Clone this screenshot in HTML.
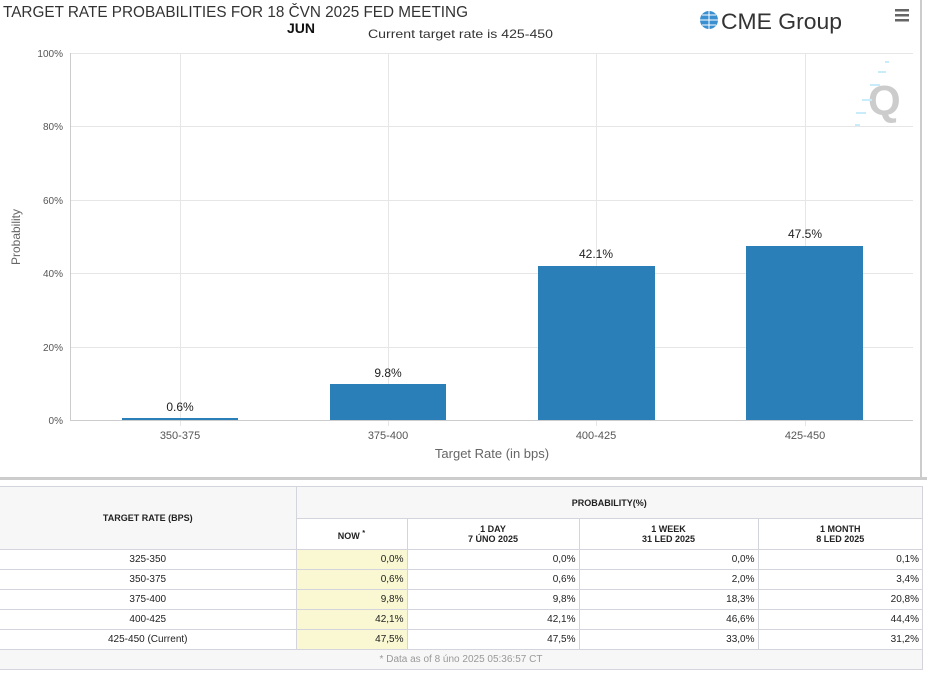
<!DOCTYPE html>
<html><head><meta charset="utf-8"><style>
body{margin:0;width:927px;height:673px;background:#fff;overflow:hidden;font-family:"Liberation Sans",sans-serif;position:relative}
svg{position:absolute;left:0;top:0}
table{position:absolute;left:0;top:486px;border-collapse:collapse;font-size:10px;color:#222;width:923px}
td{border:1px solid #d4d4dc;padding:0 3px;height:19px;box-sizing:border-box}
.h{background:#f7f7f7;text-align:center;font-weight:bold;font-size:9px}
.c{text-align:center}.r{text-align:right}.y{background:#f9f8d2;text-align:right}
</style></head><body>
<svg width="927" height="486" font-family="Liberation Sans, sans-serif">
<line x1="921" y1="0" x2="921" y2="478" stroke="#ccc" stroke-width="2"/>
<rect x="0" y="477" width="927" height="3" fill="#ccc"/>
<text x="3" y="17" font-size="16" fill="#333" textLength="465" lengthAdjust="spacingAndGlyphs">TARGET RATE PROBABILITIES FOR 18 ČVN 2025 FED MEETING</text>
<text x="287" y="33" font-size="14" font-weight="bold" fill="#111">JUN</text>
<text x="368" y="38" font-size="12" fill="#333" textLength="185" lengthAdjust="spacingAndGlyphs">Current target rate is 425-450</text>
<circle cx="709" cy="20" r="9" fill="#3a8fd0"/>
<path d="M700 20h18M709 11v18M702 15h14M702 25h14" stroke="#fff" stroke-width="1"/>
<text x="721" y="29" font-size="22" fill="#333" textLength="121" lengthAdjust="spacingAndGlyphs">CME Group</text>
<rect x="895" y="9" width="14" height="2.5" fill="#666"/><rect x="895" y="14" width="14" height="2.5" fill="#666"/><rect x="895" y="19" width="14" height="2.5" fill="#666"/>
<text x="868" y="115" font-size="42" font-weight="bold" fill="#ccc">Q</text>
<g stroke="#c8ecfa" stroke-width="2"><line x1="885" y1="62" x2="889" y2="62"/><line x1="878" y1="72" x2="886" y2="72"/><line x1="870" y1="85" x2="880" y2="85"/><line x1="862" y1="100" x2="872" y2="100"/><line x1="856" y1="113" x2="866" y2="113"/><line x1="855" y1="125" x2="860" y2="125"/></g>
<g stroke="#e6e6e6" stroke-width="1">
<line x1="71" y1="53.5" x2="913" y2="53.5"/><line x1="71" y1="126.5" x2="913" y2="126.5"/><line x1="71" y1="200.5" x2="913" y2="200.5"/><line x1="71" y1="273.5" x2="913" y2="273.5"/><line x1="71" y1="347.5" x2="913" y2="347.5"/>
<line x1="180.5" y1="53" x2="180.5" y2="426"/><line x1="388.5" y1="53" x2="388.5" y2="426"/><line x1="596.5" y1="53" x2="596.5" y2="426"/><line x1="805.5" y1="53" x2="805.5" y2="426"/>
</g>
<line x1="70.5" y1="53" x2="70.5" y2="420" stroke="#ccc"/>
<line x1="70" y1="420.5" x2="913" y2="420.5" stroke="#ccc"/>
<g font-size="10" fill="#555" text-anchor="end">
<text x="63" y="57">100%</text><text x="63" y="130">80%</text><text x="63" y="204">60%</text><text x="63" y="277">40%</text><text x="63" y="351">20%</text><text x="63" y="424">0%</text></g>
<text transform="translate(20,237) rotate(-90)" font-size="12" fill="#666" text-anchor="middle">Probability</text>
<g fill="#2b7fb8">
<rect x="122" y="418" width="116" height="2"/><rect x="330" y="384" width="116" height="36"/><rect x="538" y="266" width="117" height="154"/><rect x="746" y="246" width="117" height="174"/></g>
<g font-size="12" fill="#222" text-anchor="middle">
<text x="180" y="411">0.6%</text><text x="388" y="377">9.8%</text><text x="596" y="258">42.1%</text><text x="805" y="238">47.5%</text></g>
<g font-size="11" fill="#555" text-anchor="middle">
<text x="180" y="439">350-375</text><text x="388" y="439">375-400</text><text x="596" y="439">400-425</text><text x="805" y="439">425-450</text></g>
<text x="492" y="458" font-size="13" fill="#666" text-anchor="middle">Target Rate (in bps)</text>
</svg>
<table>
<tr style="height:32px"><td class="h" rowspan="2" style="width:296px;border-left:none">TARGET RATE (BPS)</td><td class="h" colspan="4" style="height:32px">PROBABILITY(%)</td></tr>
<tr style="height:31px"><td class="h" style="width:111px;background:#fff">NOW <sup>*</sup></td><td class="h" style="width:172px;background:#fff">1 DAY<br>7 ÚNO 2025</td><td class="h" style="width:179px;background:#fff">1 WEEK<br>31 LED 2025</td><td class="h" style="background:#fff">1 MONTH<br>8 LED 2025</td></tr>
<tr style="height:20px"><td class="c" style="border-left:none">325-350</td><td class="y">0,0%</td><td class="r">0,0%</td><td class="r">0,0%</td><td class="r">0,1%</td></tr>
<tr style="height:20px"><td class="c" style="border-left:none">350-375</td><td class="y">0,6%</td><td class="r">0,6%</td><td class="r">2,0%</td><td class="r">3,4%</td></tr>
<tr style="height:20px"><td class="c" style="border-left:none">375-400</td><td class="y">9,8%</td><td class="r">9,8%</td><td class="r">18,3%</td><td class="r">20,8%</td></tr>
<tr style="height:20px"><td class="c" style="border-left:none">400-425</td><td class="y">42,1%</td><td class="r">42,1%</td><td class="r">46,6%</td><td class="r">44,4%</td></tr>
<tr style="height:20px"><td class="c" style="border-left:none">425-450 (Current)</td><td class="y">47,5%</td><td class="r">47,5%</td><td class="r">33,0%</td><td class="r">31,2%</td></tr>
<tr style="height:20px"><td colspan="5" class="c" style="background:#f7f7f7;color:#999;border-left:none">* Data as of 8 úno 2025 05:36:57 CT</td></tr>
</table>
</body></html>
